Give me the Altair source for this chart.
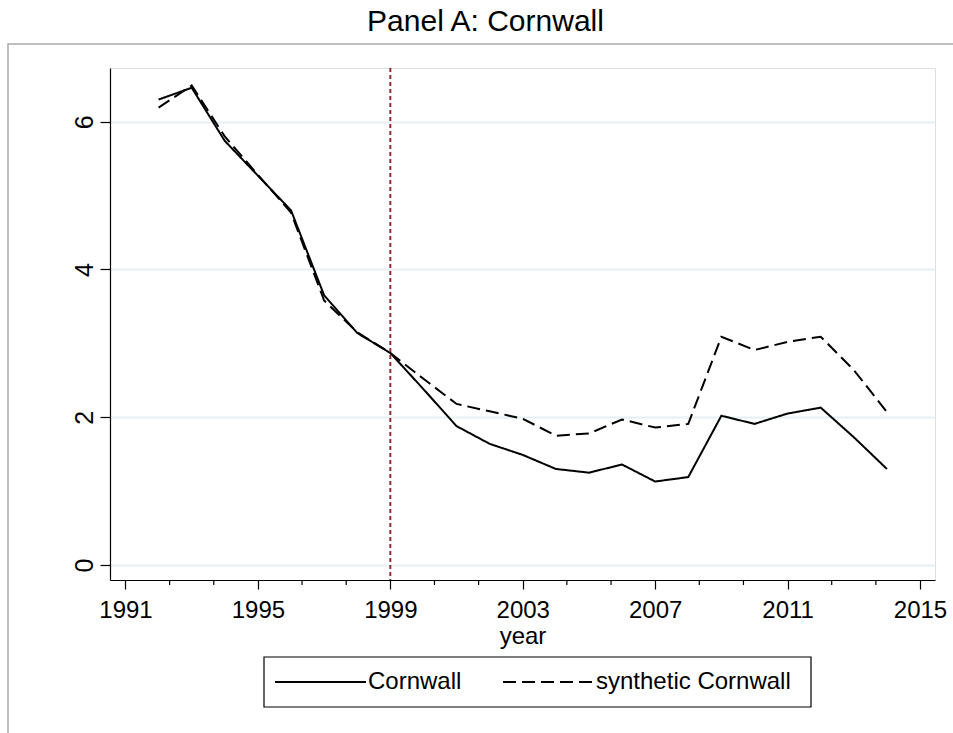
import altair as alt
import pandas as pd

# Unemployment-style series for Cornwall and its synthetic control
years = list(range(1992, 2015))
cornwall = [6.30, 6.46, 5.74, 5.27, 4.80, 3.65, 3.14, 2.87, 2.38, 1.88, 1.64, 1.49,
            1.30, 1.25, 1.36, 1.13, 1.19, 2.02, 1.91, 2.05, 2.13, 1.73, 1.30]
synthetic = [6.19, 6.49, 5.80, 5.28, 4.77, 3.58, 3.15, 2.87, 2.52, 2.18, 2.08, 1.98,
             1.75, 1.78, 1.97, 1.86, 1.91, 3.09, 2.91, 3.02, 3.09, 2.64, 2.07]
series_names = ["Cornwall", "synthetic Cornwall"]
series_dash = [[1, 0], [13, 6]]

treatment_year = [1999]
x_major_ticks = [1991, 1995, 1999, 2003, 2007, 2011, 2015]
x_minor_ticks = [1992.333, 1993.667, 1996.333, 1997.667, 2000.333, 2001.667,
                 2004.333, 2005.667, 2008.333, 2009.667, 2012.333, 2013.667]
y_ticks = [0, 2, 4, 6]
title_text = "Panel A: Cornwall"

W, H = 825, 512
FONT = "Liberation Sans"
FS = 24

df = pd.DataFrame({
    "year": years * 2,
    "value": cornwall + synthetic,
    "series": [series_names[0]] * len(years) + [series_names[1]] * len(years),
})

x_scale = alt.Scale(domain=[1990.532, 2015.453], nice=False, zero=False)
y_scale = alt.Scale(domain=[-0.203, 6.727], nice=False, zero=False)

lines = alt.Chart(df).mark_line(color="black", strokeWidth=2).encode(
    x=alt.X("year:Q", scale=x_scale,
            axis=alt.Axis(values=x_major_ticks, format="d", title="year", grid=False,
                          tickSize=9, tickColor="black", tickWidth=1.2,
                          domainColor="black", domainWidth=1.2,
                          labelFontSize=FS, labelPadding=9, labelColor="black",
                          labelFont=FONT, titleFont=FONT, titleFontSize=FS,
                          titleFontWeight="normal", titlePadding=2, titleColor="black",
                          labelOverlap=False)),
    y=alt.Y("value:Q", scale=y_scale,
            axis=alt.Axis(values=y_ticks, title=None, grid=True,
                          gridColor="#e6eff1", gridWidth=2,
                          tickSize=10, tickColor="black", tickWidth=1.2,
                          domainColor="black", domainWidth=1.2,
                          labelAngle=270, labelAlign="center", labelBaseline="bottom",
                          labelFontSize=25, labelPadding=3, labelColor="black",
                          labelFont=FONT)),
    strokeDash=alt.StrokeDash(
        "series:N",
        scale=alt.Scale(domain=series_names, range=series_dash),
        legend=None,
    ),
    detail="series:N",
)

treat = alt.Chart(pd.DataFrame({"year": treatment_year})).mark_rule(
    color="#8e2c36", strokeWidth=2, strokeDash=[4, 3]
).encode(x=alt.X("year:Q", scale=x_scale))

minor = alt.Chart(pd.DataFrame({"year": x_minor_ticks})).mark_rule(
    color="black", strokeWidth=1.2
).encode(x=alt.X("year:Q", scale=x_scale), y=alt.value(H), y2=alt.value(H + 5))

one = pd.DataFrame({"a": [0]})

# outer graph-region border
frame = alt.Chart(one).mark_rect(
    fillOpacity=0, stroke="#aaaaaa", strokeWidth=1.5
).encode(x=alt.value(-102), x2=alt.value(880), y=alt.value(-24), y2=alt.value(700))

# panel heading, centred over the whole graph region
heading = alt.Chart(one).mark_text(
    text=title_text, font=FONT, fontSize=30, align="center",
    baseline="alphabetic", color="black"
).encode(x=alt.value(375.5), y=alt.value(-37))

# legend: boxed row with a line sample and a label per series
legend_box = alt.Chart(one).mark_rect(
    fill="white", stroke="black", strokeWidth=1.2
).encode(x=alt.value(154), x2=alt.value(701), y=alt.value(589), y2=alt.value(639))

legend_rows = []
for name, dash, x0 in zip(series_names, series_dash, [165, 393]):
    legend_rows.append(
        alt.Chart(one).mark_rule(color="black", strokeWidth=2, strokeDash=dash)
        .encode(x=alt.value(x0), x2=alt.value(x0 + 91), y=alt.value(614))
    )
    legend_rows.append(
        alt.Chart(one).mark_text(text=name, font=FONT, fontSize=FS, align="left",
                                 baseline="middle", color="black")
        .encode(x=alt.value(x0 + 93), y=alt.value(614))
    )

chart = alt.layer(frame, heading, lines, treat, minor, legend_box,
                  *legend_rows).properties(
    width=W, height=H,
    padding={"left": 110, "top": 68, "right": 18, "bottom": 153},
    autosize=alt.AutoSizeParams(type="none"),
).configure_view(strokeWidth=0).configure(font=FONT, background="white")

chart.save("out.html", embed_options={"renderer": "svg", "actions": False})
